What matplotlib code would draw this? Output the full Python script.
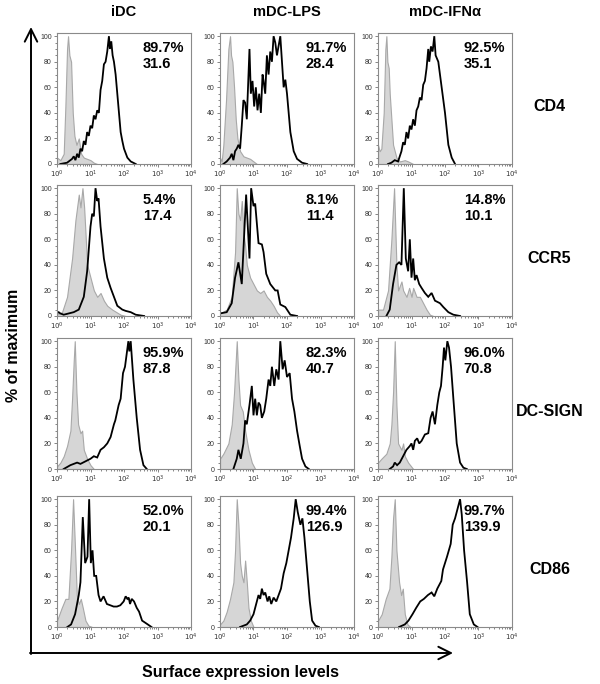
# Flow cytometry overlay grid: isotype (grey fill) vs marker (black line), 4 markers x 3 DC types
import numpy as np
import matplotlib
matplotlib.use("Agg")
import matplotlib.pyplot as plt
from matplotlib.patches import FancyArrowPatch
from matplotlib.ticker import FixedLocator, AutoMinorLocator

plt.rcParams["font.family"] = ["Liberation Sans", "DejaVu Sans"]

columns = ["iDC", "mDC-LPS", "mDC-IFNα"]
markers = ["CD4", "CCR5", "DC-SIGN", "CD86"]
pct = [["89.7%", "91.7%", "92.5%"],
       ["5.4%", "8.1%", "14.8%"],
       ["95.9%", "82.3%", "96.0%"],
       ["52.0%", "99.4%", "99.7%"]]
mfi = [["31.6", "28.4", "35.1"],
       ["17.4", "11.4", "10.1"],
       ["87.8", "40.7", "70.8"],
       ["20.1", "126.9", "139.9"]]

# x values are log10(fluorescence), y values are % of maximum
# ---- CD4 ----
cd4_idc_iso_x = [0, 0.1, 0.2, 0.25, 0.3, 0.33, 0.37, 0.42, 0.47, 0.52, 0.58, 0.65, 0.72, 0.8, 0.9, 1.0, 1.1, 1.2]
cd4_idc_iso_y = [5, 3, 8, 45, 90, 100, 85, 80, 40, 22, 15, 20, 8, 5, 4, 3, 1, 0]
cd4_idc_x = [0.1, 0.3, 0.45, 0.5, 0.55, 0.6, 0.65, 0.7, 0.75, 0.8, 0.85, 0.9, 0.95, 1.0, 1.05, 1.1, 1.15, 1.2, 1.25,
             1.3, 1.35, 1.4, 1.45, 1.5, 1.55, 1.58, 1.62, 1.66, 1.7, 1.75, 1.8, 1.85, 1.9, 1.95, 2.0, 2.1, 2.2, 2.35]
cd4_idc_y = [0, 1, 4, 6, 3, 8, 5, 12, 10, 18, 15, 25, 22, 30, 28, 38, 35, 42, 40,
             58, 65, 78, 80, 88, 100, 90, 96, 85, 80, 70, 55, 40, 25, 18, 12, 5, 2, 0]
cd4_lps_iso_x = [0, 0.05, 0.1, 0.18, 0.25, 0.3, 0.33, 0.37, 0.42, 0.47, 0.52, 0.6, 0.7, 0.8, 0.9, 1.0, 1.1]
cd4_lps_iso_y = [5, 2, 15, 50, 90, 100, 85, 80, 60, 35, 20, 10, 6, 5, 4, 2, 0]
cd4_lps_x = [0.1, 0.2, 0.3, 0.35, 0.4, 0.45, 0.5, 0.55, 0.6, 0.65, 0.7, 0.75, 0.8, 0.88, 0.92, 0.97, 1.02, 1.07,
             1.12, 1.17, 1.22, 1.27, 1.3, 1.35, 1.4, 1.45, 1.5, 1.55, 1.6, 1.65, 1.7, 1.8, 1.85, 1.9, 1.95, 2.0,
             2.05, 2.1, 2.2, 2.3, 2.45, 2.6]
cd4_lps_y = [0, 2, 5, 8, 3, 10, 12, 15, 12, 30, 50, 48, 35, 90, 55, 65, 45, 60,
             42, 55, 40, 70, 65, 55, 85, 70, 88, 80, 100, 95, 85, 100, 80, 60, 66, 55,
             40, 25, 10, 4, 1, 0]
cd4_ifn_iso_x = [0, 0.05, 0.1, 0.17, 0.22, 0.25, 0.28, 0.32, 0.35, 0.4, 0.45, 0.55, 0.65, 0.8, 0.9, 1.05]
cd4_ifn_iso_y = [15, 10, 12, 40, 90, 100, 80, 75, 55, 35, 15, 5, 2, 3, 2, 0]
cd4_ifn_x = [0.3, 0.4, 0.5, 0.6, 0.7, 0.75, 0.8, 0.85, 0.9, 0.95, 1.0, 1.05, 1.1, 1.15, 1.2, 1.25, 1.3, 1.35,
             1.4, 1.45, 1.5, 1.53, 1.58, 1.63, 1.68, 1.72, 1.8, 1.9, 2.0, 2.1, 2.2, 2.3]
cd4_ifn_y = [0, 1, 3, 2, 10, 17, 15, 25, 20, 30, 27, 35, 30, 42, 45, 52, 50, 62,
             65, 75, 90, 80, 92, 88, 100, 85, 80, 60, 40, 15, 5, 0]

# ---- CCR5 ----
ccr5_idc_iso_x = [0, 0.15, 0.3, 0.45, 0.55, 0.65, 0.7, 0.76, 0.81, 0.9, 1.0, 1.1, 1.2, 1.3, 1.4, 1.5, 1.65, 1.9, 2.05]
ccr5_idc_iso_y = [1, 3, 15, 45, 75, 95, 85, 100, 85, 40, 30, 20, 15, 18, 12, 8, 5, 1, 0]
ccr5_idc_x = [0, 0.05, 0.1, 0.2, 0.35, 0.5, 0.65, 0.8, 0.9, 1.0, 1.05, 1.1, 1.15, 1.2, 1.24, 1.3, 1.4, 1.5,
              1.6, 1.7, 1.8, 1.95, 2.05, 2.2, 2.35, 2.6]
ccr5_idc_y = [2, 3, 2, 1, 2, 3, 5, 15, 35, 70, 80, 78, 100, 90, 92, 70, 45, 30,
              22, 15, 8, 5, 4, 3, 1, 0]
ccr5_lps_iso_x = [0, 0.2, 0.35, 0.45, 0.5, 0.55, 0.6, 0.65, 0.7, 0.75, 0.8, 0.9, 1.0, 1.1, 1.2, 1.3, 1.4, 1.5,
                  1.6, 1.7, 1.8]
ccr5_lps_iso_y = [2, 5, 15, 50, 100, 80, 75, 90, 65, 55, 40, 30, 25, 20, 18, 20, 15, 12, 8, 3, 0]
ccr5_lps_x = [0, 0.2, 0.35, 0.45, 0.55, 0.65, 0.78, 0.88, 0.93, 1.0, 1.05, 1.15, 1.25, 1.3, 1.38, 1.5, 1.65,
              1.72, 1.8, 1.95, 2.1, 2.3]
ccr5_lps_y = [2, 3, 10, 30, 42, 25, 95, 45, 100, 86, 88, 57, 56, 50, 33, 25, 20, 20, 9, 7, 1, 0]
ccr5_ifn_iso_x = [0, 0.15, 0.3, 0.4, 0.48, 0.55, 0.6, 0.7, 0.75, 0.85, 0.93, 1.0, 1.05, 1.15, 1.25, 1.35,
                  1.45, 1.55, 1.65]
ccr5_ifn_iso_y = [5, 5, 20, 60, 100, 40, 20, 27, 20, 15, 22, 15, 22, 15, 15, 10, 5, 1, 0]
ccr5_ifn_x = [0.25, 0.35, 0.45, 0.55, 0.63, 0.7, 0.77, 0.83, 0.9, 0.95, 1.0, 1.05, 1.1, 1.15, 1.23, 1.3, 1.4,
              1.5, 1.6, 1.7, 1.85, 1.95, 2.1, 2.25, 2.45]
ccr5_ifn_y = [0, 5, 25, 40, 42, 40, 100, 45, 35, 60, 30, 45, 28, 32, 25, 22, 18,
              15, 18, 12, 10, 7, 3, 1, 0]

# ---- DC-SIGN ----
sign_idc_iso_x = [0, 0.1, 0.2, 0.3, 0.4, 0.45, 0.5, 0.53, 0.58, 0.63, 0.7, 0.75, 0.8, 0.9, 1.0, 1.1]
sign_idc_iso_y = [2, 5, 10, 18, 30, 55, 85, 100, 60, 35, 28, 30, 15, 8, 3, 0]
sign_idc_x = [0.2, 0.4, 0.6, 0.7, 0.85, 1.0, 1.1, 1.2, 1.3, 1.4, 1.5, 1.6, 1.7, 1.74, 1.84, 1.9, 1.97, 2.03,
              2.08, 2.13, 2.16, 2.2, 2.28, 2.38, 2.48, 2.58, 2.68]
sign_idc_y = [0, 3, 5, 4, 6, 8, 10, 9, 15, 17, 20, 25, 35, 38, 50, 55, 75, 80,
              90, 100, 92, 100, 70, 40, 15, 3, 0]
sign_lps_iso_x = [0, 0.1, 0.25, 0.35, 0.42, 0.5, 0.55, 0.6, 0.68, 0.75, 0.85, 0.95, 1.05]
sign_lps_iso_y = [8, 12, 20, 35, 60, 100, 70, 50, 45, 30, 15, 5, 0]
sign_lps_x = [0.4, 0.5, 0.55, 0.62, 0.7, 0.75, 0.8, 0.88, 0.95, 1.0, 1.05, 1.1, 1.15, 1.2, 1.25, 1.32, 1.38,
              1.45, 1.5, 1.55, 1.62, 1.68, 1.75, 1.8, 1.87, 1.93, 2.0, 2.08, 2.15, 2.22, 2.3, 2.38, 2.45,
              2.55, 2.65]
sign_lps_y = [0, 8, 15, 8, 20, 38, 35, 50, 65, 42, 55, 42, 52, 50, 40, 45, 55,
              70, 65, 80, 65, 78, 70, 100, 78, 85, 72, 75, 55, 45, 30, 18, 8,
              2, 0]
sign_ifn_iso_x = [0, 0.1, 0.25, 0.35, 0.4, 0.45, 0.5, 0.55, 0.6, 0.7, 0.75, 0.8, 0.9, 1.05]
sign_ifn_iso_y = [5, 8, 12, 20, 35, 60, 100, 50, 20, 15, 20, 10, 5, 0]
sign_ifn_x = [0.35, 0.45, 0.5, 0.57, 0.65, 0.75, 0.85, 0.95, 1.0, 1.05, 1.1, 1.17, 1.23, 1.3, 1.4, 1.5, 1.57,
              1.63, 1.7, 1.77, 1.83, 1.88, 1.93, 1.97, 2.01, 2.07, 2.12, 2.18, 2.25, 2.35, 2.45, 2.55, 2.65]
sign_ifn_y = [0, 2, 5, 3, 5, 10, 15, 18, 20, 15, 22, 24, 20, 22, 27, 28, 40,
              45, 35, 50, 60, 65, 80, 95, 85, 100, 95, 80, 55, 20, 5, 1, 0]

# ---- CD86 ----
cd86_idc_iso_x = [0, 0.14, 0.25, 0.34, 0.42, 0.48, 0.54, 0.59, 0.65, 0.71, 0.77, 0.85, 0.94, 1.05]
cd86_idc_iso_y = [5, 15, 22, 22, 60, 100, 60, 25, 18, 22, 15, 5, 1, 0]
cd86_idc_x = [0.31, 0.42, 0.54, 0.65, 0.7, 0.77, 0.84, 0.91, 0.96, 1.01, 1.06, 1.11, 1.17, 1.24, 1.3, 1.39,
              1.49, 1.59, 1.69, 1.79, 1.89, 1.99, 2.05, 2.1, 2.14, 2.18, 2.23, 2.3, 2.38, 2.45, 2.54, 2.71, 2.82]
cd86_idc_y = [0, 2, 10, 25, 35, 86, 50, 55, 100, 50, 60, 40, 40, 25, 20, 24,
              18, 17, 16, 16, 17, 20, 24, 22, 23, 18, 22, 20, 15, 12, 5, 2, 0]
cd86_lps_iso_x = [0, 0.1, 0.2, 0.3, 0.4, 0.45, 0.5, 0.55, 0.6, 0.65, 0.7, 0.75, 0.8, 0.85, 0.92, 1.0]
cd86_lps_iso_y = [2, 5, 12, 22, 35, 60, 100, 80, 50, 40, 35, 52, 35, 15, 5, 0]
cd86_lps_x = [0.6, 0.8, 0.9, 1.0, 1.1, 1.15, 1.2, 1.25, 1.3, 1.35, 1.42, 1.47, 1.53, 1.6, 1.68, 1.75, 1.82,
              1.9, 1.98, 2.05, 2.12, 2.2, 2.26, 2.32, 2.4, 2.46, 2.52, 2.6, 2.68, 2.75, 2.85, 2.95]
cd86_lps_y = [0, 2, 5, 10, 20, 25, 22, 30, 25, 27, 20, 24, 18, 23, 20, 25, 30,
              42, 50, 60, 70, 85, 100, 90, 80, 85, 70, 45, 20, 5, 1, 0]
cd86_ifn_iso_x = [0, 0.11, 0.23, 0.34, 0.4, 0.45, 0.5, 0.55, 0.63, 0.69, 0.74, 0.8, 0.88, 0.97]
cd86_ifn_iso_y = [5, 10, 22, 30, 55, 85, 100, 60, 35, 25, 30, 10, 2, 0]
cd86_ifn_x = [0.63, 0.8, 0.91, 1.03, 1.14, 1.26, 1.37, 1.49, 1.6, 1.68, 1.77, 1.89, 1.94, 2.06, 2.17, 2.23,
              2.3, 2.35, 2.4, 2.45, 2.5, 2.57, 2.66, 2.74, 2.86, 2.97]
cd86_ifn_y = [0, 2, 5, 10, 15, 20, 22, 25, 27, 24, 30, 36, 45, 55, 65, 80,
              85, 90, 95, 100, 88, 60, 35, 10, 2, 0]

curves = [
    [(cd4_idc_iso_x, cd4_idc_iso_y, cd4_idc_x, cd4_idc_y),
     (cd4_lps_iso_x, cd4_lps_iso_y, cd4_lps_x, cd4_lps_y),
     (cd4_ifn_iso_x, cd4_ifn_iso_y, cd4_ifn_x, cd4_ifn_y)],
    [(ccr5_idc_iso_x, ccr5_idc_iso_y, ccr5_idc_x, ccr5_idc_y),
     (ccr5_lps_iso_x, ccr5_lps_iso_y, ccr5_lps_x, ccr5_lps_y),
     (ccr5_ifn_iso_x, ccr5_ifn_iso_y, ccr5_ifn_x, ccr5_ifn_y)],
    [(sign_idc_iso_x, sign_idc_iso_y, sign_idc_x, sign_idc_y),
     (sign_lps_iso_x, sign_lps_iso_y, sign_lps_x, sign_lps_y),
     (sign_ifn_iso_x, sign_ifn_iso_y, sign_ifn_x, sign_ifn_y)],
    [(cd86_idc_iso_x, cd86_idc_iso_y, cd86_idc_x, cd86_idc_y),
     (cd86_lps_iso_x, cd86_lps_iso_y, cd86_lps_x, cd86_lps_y),
     (cd86_ifn_iso_x, cd86_ifn_iso_y, cd86_ifn_x, cd86_ifn_y)],
]

W, H = 600, 684
fig = plt.figure(figsize=(W / 100, H / 100), dpi=100)

col_left = [57, 220, 378]
row_top = [33, 185, 338, 496]
aw, ah = 134, 131
minor = [np.log10(m) + d for d in range(4) for m in range(2, 10)]

for r in range(4):
    for c in range(3):
        ax = fig.add_axes([col_left[c] / W, 1 - (row_top[r] + ah) / H, aw / W, ah / H])
        ix, iy, bx, by = curves[r][c]
        ax.fill_between(ix, iy, 0, facecolor="#d6d6d6", edgecolor="#a8a8a8", lw=0.8, zorder=1)
        ax.plot(bx, by, color="black", lw=1.3, zorder=2, solid_joinstyle="miter")
        ax.set_xlim(0, 4)
        ax.set_ylim(0, 102.5)
        ax.set_xticks(range(5))
        ax.set_xticklabels([f"$10^{{{k}}}$" for k in range(5)])
        ax.xaxis.set_minor_locator(FixedLocator(minor))
        ax.set_yticks(range(0, 101, 20))
        ax.yaxis.set_minor_locator(AutoMinorLocator(4))
        ax.tick_params(which="both", labelsize=5, colors="#555", labelcolor="#333", width=0.5, pad=1.5)
        ax.tick_params(which="major", length=2.2)
        ax.tick_params(which="minor", length=1.2)
        for s in ax.spines.values():
            s.set_color("#8a8a8a"); s.set_linewidth(0.8)
        ax.text(0.64, 0.885, pct[r][c], transform=ax.transAxes, fontsize=10.5,
                fontweight="bold", va="center", ha="left")
        ax.text(0.64, 0.765, mfi[r][c], transform=ax.transAxes, fontsize=10.5,
                fontweight="bold", va="center", ha="left")
        if c == 2:
            ax.text(1.28, 0.44, markers[r], transform=ax.transAxes, fontsize=11.5,
                    fontweight="bold", va="center", ha="center")

for c in range(3):
    fig.text((col_left[c] + aw / 2) / W, 1 - 12 / H, columns[c], fontsize=10.5,
             fontweight="bold", ha="center", va="center")

# big axis arrows
ap = dict(arrowstyle="->, head_width=0.45, head_length=0.9", mutation_scale=10,
          lw=1.4, color="black", shrinkA=0, shrinkB=0, transform=fig.transFigure)
fig.add_artist(FancyArrowPatch((31 / W, 1 - 654 / H), (31 / W, 1 - 27 / H), **ap))
fig.add_artist(FancyArrowPatch((30 / W, 1 - 653 / H), (453 / W, 1 - 653 / H), **ap))
fig.text(14 / W, 1 - 345 / H, "% of maximum", rotation=90, fontsize=11.5,
         fontweight="bold", ha="center", va="center")
fig.text(240 / W, 1 - 672 / H, "Surface expression levels", fontsize=11.5,
         fontweight="bold", ha="center", va="center")

fig.savefig("out.png", dpi=100)
